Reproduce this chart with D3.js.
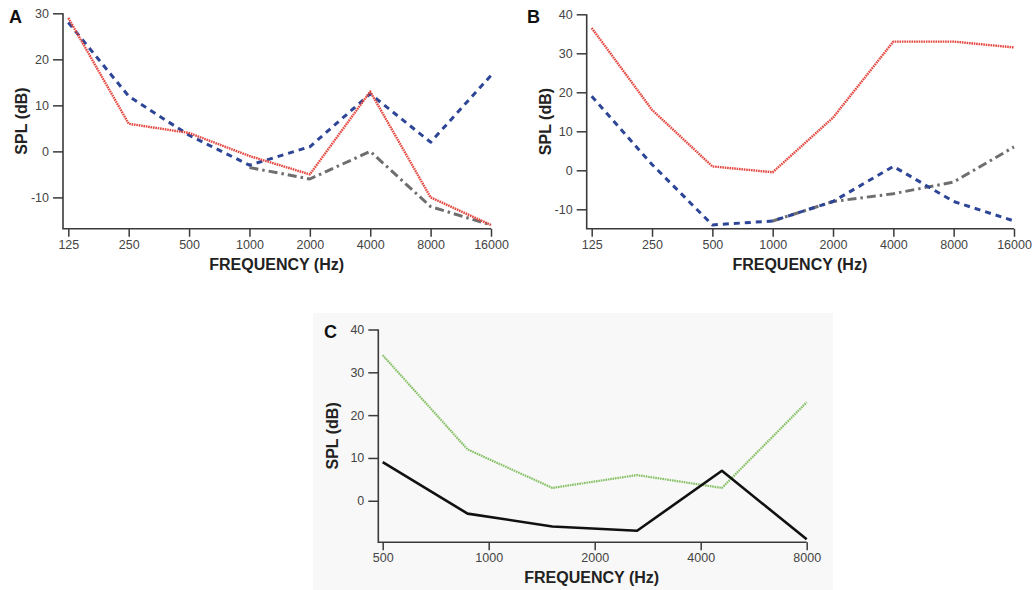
<!DOCTYPE html>
<html>
<head>
<meta charset="utf-8">
<script src="https://cdn.jsdelivr.net/npm/d3@7"></script>
<style>
  body { margin: 0; background: #fff; }
  text { font-family: "Liberation Sans", Arial, sans-serif; }
</style>
</head>
<body>
<svg id="chart" width="1032" height="590"></svg>
<script>
// ---- data ----
const freqAB = [125, 250, 500, 1000, 2000, 4000, 8000, 16000];
const aRed  = [29, 6, 4, -1, -5, 13, -10, -16];
const aBlue = [28, 12, 3.5, -3, 1, 12.5, 2, 16.5];
const aGray = [null, null, null, -3.5, -6, 0, -12, -16];

const bRed  = [36.5, 15.5, 1, -0.5, 13.5, 33, 33, 31.5];
const bBlue = [19, 1.5, -14, -13, -8, 1, -8, -13];
const bGray = [null, null, null, -13, -8, -6, -3, 6];

const freqCTicks = [500, 1000, 2000, 4000, 8000];
const freqC  = [500, 871, 1516, 2639, 4595, 8000];
const cGreen = [34, 12, 3, 6, 3, 23];
const cBlack = [9, -3, -6, -7, 7, -9];

const yTicksA = [-10, 0, 10, 20, 30];
const yTicksB = [-10, 0, 10, 20, 30, 40];
const yTicksC = [0, 10, 20, 30, 40];

// line styles
const styles = {
  red:   {color: '#e4473f', width: 2.4, dash: '1.6,0.8'},
  blue:  {color: '#2d4596', width: 3,   dash: '6,5'},
  gray:  {color: '#6e6e6e', width: 3,   dash: '9,4,2.5,4'},
  green: {color: '#86c064', width: 2.2, dash: '1.6,0.8'},
  black: {color: '#111111', width: 2.6, dash: null}
};

const svg = d3.select('#chart');

// light background behind panel C
svg.append('rect')
  .attr('x', 313).attr('y', 313).attr('width', 520).attr('height', 277)
  .attr('fill', '#f8f8f8');

function panel(cfg) {
  const g = svg.append('g');

  const x = d3.scaleLog().base(2).domain(cfg.xDomain).range(cfg.xRange);
  const y = d3.scaleLinear().domain(cfg.yDomain).range(cfg.yRange);

  // x axis
  const xa = g.append('g')
    .attr('transform', 'translate(0,' + cfg.yRange[0] + ')')
    .call(d3.axisBottom(x).tickValues(cfg.xTicks)
      .tickFormat(d => String(d)).tickSize(8).tickSizeOuter(0).tickPadding(3));
  xa.select('.domain').remove();

  // y axis
  const ya = g.append('g')
    .attr('transform', 'translate(' + cfg.axisX + ',0)')
    .call(d3.axisLeft(y).tickValues(cfg.yTicks)
      .tickFormat(d => String(d)).tickSize(10).tickPadding(4));
  ya.select('.domain').remove();

  [xa, ya].forEach(a => {
    a.selectAll('line').attr('stroke', '#3a3a3a').attr('stroke-width', 1.5);
    a.selectAll('text').attr('fill', '#444').style('font-size', '12.5px');
  });

  // axis lines
  g.append('path')
    .attr('d', 'M' + cfg.axisX + ',' + y(d3.max(cfg.yTicks)) +
               'V' + cfg.yRange[0] + 'H' + cfg.xRange[1])
    .attr('fill', 'none').attr('stroke', '#3a3a3a').attr('stroke-width', 1.6);

  // series
  cfg.series.forEach(s => {
    const pts = cfg.freq.map((f, i) => ({f: f, v: s.values[i]}));
    const line = d3.line()
      .defined(d => d.v != null)
      .x(d => x(d.f)).y(d => y(d.v));
    const st = styles[s.style];
    g.append('path')
      .datum(pts)
      .attr('d', line)
      .attr('fill', 'none')
      .attr('stroke', st.color)
      .attr('stroke-width', st.width)
      .attr('stroke-dasharray', st.dash)
      .attr('stroke-linejoin', 'round');
  });

  // titles
  g.append('text')
    .attr('x', (cfg.xRange[0] + cfg.xRange[1]) / 2 - 3)
    .attr('y', cfg.yRange[0] + 41)
    .attr('text-anchor', 'middle')
    .style('font-size', '16px').style('font-weight', 'bold').attr('fill', '#222')
    .text('FREQUENCY (Hz)');

  g.append('text')
    .attr('transform', 'translate(' + cfg.yTitleX + ',' +
          (cfg.yRange[0] + cfg.yRange[1]) / 2 + ') rotate(-90)')
    .attr('text-anchor', 'middle')
    .style('font-size', '16px').style('font-weight', 'bold').attr('fill', '#222')
    .text('SPL (dB)');

  g.append('text')
    .attr('x', cfg.letter[0]).attr('y', cfg.letter[1])
    .style('font-size', '18px').style('font-weight', 'bold').attr('fill', '#111')
    .text(cfg.name);
}

panel({
  name: 'A', letter: [9, 23],
  freq: freqAB, xTicks: freqAB, xDomain: [125, 16000], xRange: [68.3, 491],
  yDomain: [-16.8, 30], yRange: [228.7, 13.3], yTicks: yTicksA,
  axisX: 63, yTitleX: 27,
  series: [
    {values: aGray, style: 'gray'},
    {values: aBlue, style: 'blue'},
    {values: aRed, style: 'red'}
  ]
});

panel({
  name: 'B', letter: [527, 23],
  freq: freqAB, xTicks: freqAB, xDomain: [125, 16000], xRange: [591.7, 1014],
  yDomain: [-15, 40], yRange: [228.8, 14.3], yTicks: yTicksB,
  axisX: 586.7, yTitleX: 551,
  series: [
    {values: bGray, style: 'gray'},
    {values: bBlue, style: 'blue'},
    {values: bRed, style: 'red'}
  ]
});

panel({
  name: 'C', letter: [324, 338],
  freq: freqC, xTicks: freqCTicks, xDomain: [500, 8000], xRange: [382.7, 806.7],
  yDomain: [-9.7, 40], yRange: [542.3, 329.5], yTicks: yTicksC,
  axisX: 378.3, yTitleX: 338,
  series: [
    {values: cGreen, style: 'green'},
    {values: cBlack, style: 'black'}
  ]
});
</script>
</body>
</html>
